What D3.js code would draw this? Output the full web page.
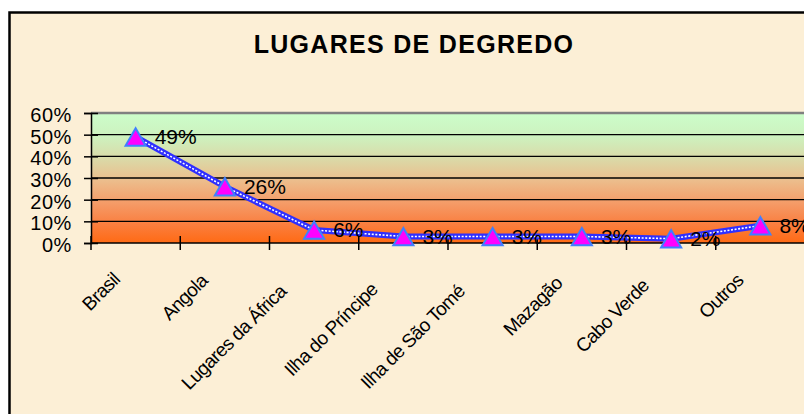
<!DOCTYPE html>
<html>
<head>
<meta charset="utf-8">
<script src="https://cdn.jsdelivr.net/npm/d3@7"></script>
<style>
  body { margin: 0; background: #fff; }
  text { font-family: "Liberation Sans", Arial, sans-serif; fill: #000; }
</style>
</head>
<body>
<div id="chart"></div>
<script>
const categories = ["Brasil", "Angola", "Lugares da África", "Ilha do Príncipe",
  "Ilha de São Tomé", "Mazagão", "Cabo Verde", "Outros"];
const shares = [0.49, 0.26, 0.06, 0.03, 0.03, 0.03, 0.02, 0.08];
const yTicks = [0, 0.1, 0.2, 0.3, 0.4, 0.5, 0.6];
const title = "LUGARES DE DEGREDO";

const width = 804, height = 414;
const plot = {left: 91, right: 805, top: 113, bottom: 243};

const svg = d3.select("#chart").append("svg")
  .attr("width", width)
  .attr("height", height);

// frame (runs off the right and bottom edges like the original)
svg.append("rect")
  .attr("x", 9.5).attr("y", 12.5)
  .attr("width", 830).attr("height", 430)
  .attr("fill", "#fcefd6")
  .attr("stroke", "#000")
  .attr("stroke-width", 2.5);

const defs = svg.append("defs");
const grad = defs.append("linearGradient")
  .attr("id", "plotfill")
  .attr("x1", 0).attr("y1", 0).attr("x2", 0).attr("y2", 1);
[["0%", "#ccfdca"], ["18%", "#cdf2bf"], ["35%", "#dadaa8"], ["52%", "#ecbd8c"],
 ["70%", "#f59a66"], ["85%", "#fa7f40"], ["100%", "#ff6a14"]]
  .forEach(s => grad.append("stop").attr("offset", s[0]).attr("stop-color", s[1]));

const x = d3.scaleBand().domain(categories).range([plot.left, plot.right]).padding(0);
const y = d3.scaleLinear().domain([0, 0.6]).range([plot.bottom, plot.top]);

svg.append("rect")
  .attr("x", plot.left).attr("y", y(0.6))
  .attr("width", plot.right - plot.left)
  .attr("height", y(0) - y(0.6))
  .attr("fill", "url(#plotfill)");

// gridlines
svg.append("g").selectAll("line")
  .data(yTicks.filter(t => t > 0))
  .join("line")
  .attr("x1", plot.left).attr("x2", plot.right)
  .attr("y1", d => y(d)).attr("y2", d => y(d))
  .attr("stroke", d => d === 0.6 ? "#808080" : "#000")
  .attr("stroke-width", d => d === 0.6 ? 2.5 : 1.4);

// title
svg.append("text")
  .attr("x", 414).attr("y", 53)
  .attr("text-anchor", "middle")
  .attr("font-size", 25)
  .attr("font-weight", "bold")
  .attr("letter-spacing", 1.3)
  .text(title);

// y axis
const yAxis = svg.append("g")
  .attr("transform", `translate(${plot.left},0)`)
  .call(d3.axisLeft(y).tickValues(yTicks).tickFormat(d3.format(".0%")).tickSize(7).tickPadding(12));
yAxis.select(".domain").attr("stroke", "#000").attr("stroke-width", 1.5);
yAxis.selectAll(".tick line").attr("x1", 7).attr("stroke", "#000").attr("stroke-width", 1.5);
yAxis.selectAll(".tick text")
  .attr("font-size", 20)
  .attr("letter-spacing", 0.6)
  .attr("font-family", "Liberation Sans, Arial, sans-serif")
  .attr("fill", "#000")
  .attr("dy", "0.42em");

// x axis line and ticks at category boundaries
svg.append("line")
  .attr("x1", plot.left).attr("x2", plot.right)
  .attr("y1", y(0)).attr("y2", y(0))
  .attr("stroke", "#000").attr("stroke-width", 1.5);
svg.append("g").selectAll("line")
  .data(categories.map(c => x(c)).concat([plot.right]))
  .join("line")
  .attr("x1", d => d).attr("x2", d => d)
  .attr("y1", y(0) - 7).attr("y2", y(0) + 7)
  .attr("stroke", "#000").attr("stroke-width", 1.5);

// rotated category labels
const cx = c => x(c) + x.bandwidth() / 2;
svg.append("g").selectAll("text")
  .data(categories)
  .join("text")
  .attr("transform", c => `translate(${cx(c) - 9},275) rotate(-45)`)
  .attr("text-anchor", "end")
  .attr("font-size", 19)
  .attr("letter-spacing", -0.6)
  .text(c => c)
  .attr("dx", function() { return -0.18 * this.getComputedTextLength(); });

// line
const pts = categories.map((c, i) => [cx(c), y(shares[i])]);
const line = d3.line();
svg.append("path")
  .attr("d", line(pts))
  .attr("fill", "none")
  .attr("stroke", "#2f2fff")
  .attr("stroke-width", 6)
  .attr("stroke-linejoin", "round");
svg.append("path")
  .attr("d", line(pts))
  .attr("fill", "none")
  .attr("stroke", "#fff")
  .attr("stroke-width", 1.6)
  .attr("stroke-dasharray", "2,1.6");

// triangle markers
svg.append("g").selectAll("path")
  .data(pts)
  .join("path")
  .attr("transform", d => `translate(${d[0]},${d[1] + 3})`)
  .attr("d", d3.symbol().type(d3.symbolTriangle).size(175))
  .attr("fill", "#ff00ff")
  .attr("stroke", "#3f7fff")
  .attr("stroke-width", 2);

// data labels
svg.append("g").selectAll("text")
  .data(shares)
  .join("text")
  .attr("x", (d, i) => pts[i][0] + 19)
  .attr("y", (d, i) => pts[i][1])
  .attr("dy", "0.35em")
  .attr("font-size", 21)
  .text(d => d3.format(".0%")(d));
</script>
</body>
</html>
